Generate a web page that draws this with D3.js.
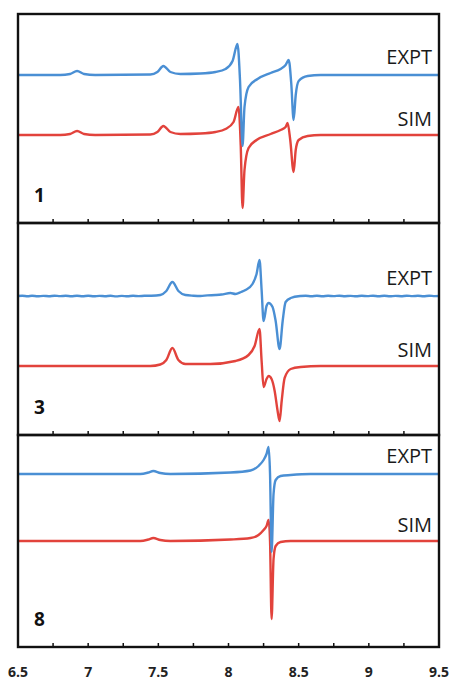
<!DOCTYPE html>
<html>
<head>
<meta charset="utf-8">
<script src="https://cdn.jsdelivr.net/npm/d3@7"></script>
<style>
  html, body { margin: 0; padding: 0; background: #fff; }
  svg { display: block; }
</style>
</head>
<body>
<div id="chart"></div>
<script>
// x axis (field units) and tick labels
const xTicks = [6.5, 6.75, 7, 7.25, 7.5, 7.75, 8, 8.25, 8.5, 8.75, 9, 9.25, 9.5];
const xLabels = ["6.5", "7", "7.5", "8", "8.5", "9", "9.5"];

// panel names and trace labels
const panelNames = ["1", "3", "8"];
const traceNames = ["EXPT", "SIM"];

// vertical offsets of each trace baseline inside its panel (intensity units)
const exptOffsets = [148, 139, 173];
const simOffsets = [88, 69, 106];
const panelSpans = [209, 212, 212];

// traces: [x, intensity above baseline]
const expt1 = [[6.5,0],[6.8,0],[6.871,1],[6.921,4],[6.971,1],[7.05,0],[7.443,0.5],[7.493,3],[7.536,9],[7.586,3],[7.657,1],[7.8,1.5],[7.907,3],[7.979,6],[8.029,14],[8.064,31],[8.082,-5],[8.1,-71],[8.114,-32],[8.143,-12],[8.207,-4],[8.3,2],[8.371,6],[8.407,10],[8.429,15],[8.447,-8],[8.464,-45],[8.479,-20],[8.5,-6],[8.564,-1],[8.657,0],[9.5,0]];
const sim1 = [[6.5,0],[6.8,0],[6.871,1],[6.921,4],[6.971,1],[7.05,0],[7.443,0.5],[7.493,3],[7.536,9],[7.586,3],[7.657,1],[7.8,1.5],[7.907,3],[7.979,6],[8.036,13],[8.071,28],[8.087,-10],[8.1,-73],[8.114,-35],[8.143,-13],[8.2,-5],[8.3,1],[8.371,5],[8.407,8],[8.421,12],[8.44,-5],[8.464,-37],[8.479,-15],[8.5,-5],[8.564,-1],[8.657,0],[9.5,0]];
const expt2 = [[6.5,0],[6.53,0.3],[6.57,-0.2],[6.6,0.2],[6.64,-0.3],[6.68,0.1],[6.72,-0.2],[6.76,0.3],[6.8,-0.1],[6.84,0.2],[6.88,-0.3],[6.92,0.2],[6.96,-0.2],[7.0,0.3],[7.04,-0.3],[7.08,0.1],[7.12,-0.2],[7.16,0.2],[7.2,-0.4],[7.24,0.1],[7.28,-0.3],[7.32,0.2],[7.36,-0.1],[7.4,0.2],[7.45,0.3],[7.514,1],[7.557,5],[7.6,14],[7.643,5],[7.693,1],[7.75,0.3],[7.8,0],[7.85,0.6],[7.907,1],[7.95,1.5],[8.014,3],[8.05,2],[8.09,4],[8.121,6],[8.171,12],[8.2,22],[8.221,36],[8.236,6],[8.25,-25],[8.271,-10],[8.286,-7],[8.314,-11],[8.336,-25],[8.364,-53],[8.386,-25],[8.407,-6],[8.443,-2],[8.514,0],[8.55,0.3],[8.59,-0.2],[8.63,0.2],[8.67,-0.3],[8.71,0.2],[8.75,-0.1],[8.79,0.3],[8.83,-0.2],[8.87,0.1],[8.91,-0.3],[8.95,0.2],[8.99,-0.1],[9.03,0.3],[9.07,-0.2],[9.11,0.2],[9.15,-0.3],[9.19,0.1],[9.23,-0.2],[9.27,0.3],[9.31,-0.1],[9.35,0.2],[9.39,-0.2],[9.43,0.3],[9.47,-0.1],[9.5,0]];
const sim2 = [[6.5,0],[7.443,0],[7.514,1.5],[7.557,6],[7.6,18],[7.643,6],[7.693,2],[7.871,2],[8.05,5],[8.143,11],[8.186,20],[8.221,37],[8.236,5],[8.25,-21],[8.271,-13],[8.286,-10],[8.307,-13],[8.329,-25],[8.35,-45],[8.364,-55],[8.379,-35],[8.4,-12],[8.443,-3],[8.514,-1],[8.657,0],[9.5,0]];
const expt3 = [[6.5,0],[7.371,0],[7.429,1.5],[7.464,3],[7.514,1],[7.586,0],[8.014,1.5],[8.157,3.5],[8.214,8],[8.25,14],[8.271,20],[8.286,27],[8.296,0],[8.307,-78],[8.321,-20],[8.336,-6],[8.371,-2],[8.443,-1],[8.586,0],[9.5,0]];
const sim3 = [[6.5,0],[7.371,0],[7.429,1.5],[7.464,3],[7.514,1],[7.586,0],[8.014,1.5],[8.157,3],[8.214,6],[8.25,11],[8.271,15],[8.286,21],[8.296,0],[8.307,-78],[8.321,-18],[8.336,-5],[8.371,-1],[8.443,0],[9.5,0]];

const exptSeries = [expt1, expt2, expt3];
const simSeries = [sim1, sim2, sim3];

const width = 452, height = 682;
const left = 18, right = 439;
const panelTops = [14, 223, 435];
const panelBottoms = [223, 435, 647];

const blue = "#4a8fd4";
const red = "#e2433c";

const svg = d3.select("#chart").append("svg")
  .attr("width", width).attr("height", height);

const x = d3.scaleLinear().domain([6.5, 9.5]).range([left, right]);

panelNames.forEach((name, i) => {
  const top = panelTops[i], bottom = panelBottoms[i];
  const y = d3.scaleLinear().domain([0, panelSpans[i]]).range([bottom, top]);
  const g = svg.append("g");

  const line = off => d3.line()
    .x(d => x(d[0]))
    .y(d => y(d[1] + off))
    .curve(d3.curveMonotoneX);

  g.append("path").datum(simSeries[i])
    .attr("d", line(simOffsets[i]))
    .attr("fill", "none").attr("stroke", red)
    .attr("stroke-width", 2.4).attr("stroke-linejoin", "round");

  g.append("path").datum(exptSeries[i])
    .attr("d", line(exptOffsets[i]))
    .attr("fill", "none").attr("stroke", blue)
    .attr("stroke-width", 2.4).attr("stroke-linejoin", "round");

  // inward ticks on the bottom edge
  g.selectAll("line.tick")
    .data(xTicks.slice(1, -1))
    .join("line")
    .attr("class", "tick")
    .attr("x1", d => x(d)).attr("x2", d => x(d))
    .attr("y1", bottom).attr("y2", bottom - 4)
    .attr("stroke", "#111").attr("stroke-width", 1.5);

  // frame
  g.append("rect")
    .attr("x", left).attr("y", top)
    .attr("width", right - left).attr("height", bottom - top)
    .attr("fill", "none").attr("stroke", "#111").attr("stroke-width", 2.4);

  // trace labels
  g.append("text")
    .attr("x", 432).attr("y", y(exptOffsets[i]) - 11)
    .attr("text-anchor", "end")
    .style("font", "20px 'Open Sans', sans-serif")
    .attr("fill", "#1a1a1a")
    .text(traceNames[0]);
  g.append("text")
    .attr("x", 432).attr("y", y(simOffsets[i]) - 9)
    .attr("text-anchor", "end")
    .style("font", "20px 'Open Sans', sans-serif")
    .attr("fill", "#1a1a1a")
    .text(traceNames[1]);

  // panel number
  g.append("text")
    .attr("x", 34).attr("y", bottom - 21)
    .style("font", "bold 19px 'Open Sans', sans-serif")
    .attr("fill", "#111")
    .text(name);
});

// bottom tick labels
svg.append("g").selectAll("text")
  .data(xLabels)
  .join("text")
  .attr("x", d => x(+d))
  .attr("y", 677)
  .attr("text-anchor", "middle")
  .style("font", "bold 14px 'Open Sans', sans-serif")
  .attr("fill", "#222")
  .text(d => d);
</script>
</body>
</html>
